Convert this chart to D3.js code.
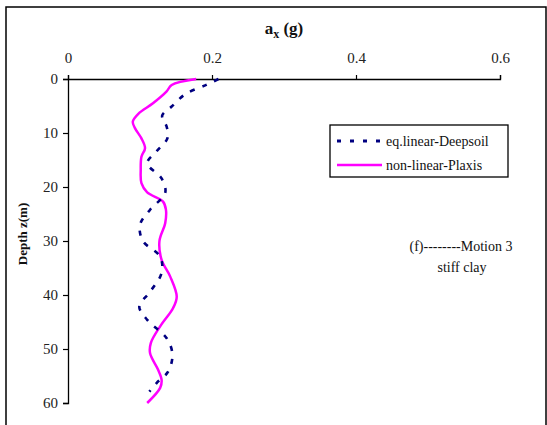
<!DOCTYPE html>
<html><head><meta charset="utf-8">
<script src="https://cdn.jsdelivr.net/npm/d3@7"></script>
<style>
html,body{margin:0;padding:0;background:#fff;}
svg{display:block;font-family:"Liberation Serif","Times New Roman",serif;}
</style></head>
<body>
<svg id="chart" width="547" height="425"></svg>
<script>
// Data
const xTicks = [0, 0.2, 0.4, 0.6];
const yTicks = [0, 10, 20, 30, 40, 50, 60];
const deepsoilDepth = [0, 1.1, 2.8, 5.1, 6.7, 7.6, 8.8, 11, 13.4, 15.6, 18.4, 21.1, 24.2, 27, 30, 32.9, 35.9, 39.4, 42.1, 44.6, 48, 51, 54.2, 56.3, 57.9];
const deepsoilAcc   = [0.209, 0.192, 0.163, 0.144, 0.131, 0.132, 0.137, 0.138, 0.123, 0.110, 0.130, 0.135, 0.114, 0.100, 0.104, 0.128, 0.130, 0.114, 0.099, 0.110, 0.137, 0.145, 0.139, 0.123, 0.113];
const plaxisDepth = [0, 1.1, 2.3, 4.5, 6.4, 7.9, 9.1, 11, 12.8, 14.4, 16.8, 19.3, 21, 22.7, 24.2, 26.7, 30, 33.5, 36.6, 40.3, 42.4, 45.8, 48.9, 50.8, 53.8, 55.7, 57.2, 60];
const plaxisAcc   = [0.178, 0.144, 0.137, 0.118, 0.098, 0.090, 0.093, 0.102, 0.107, 0.102, 0.101, 0.102, 0.110, 0.132, 0.136, 0.135, 0.127, 0.130, 0.142, 0.151, 0.146, 0.128, 0.115, 0.114, 0.125, 0.130, 0.128, 0.110];
const seriesNames = ["eq.linear-Deepsoil", "non-linear-Plaxis"];

const svg = d3.select("#chart");
// outer frame
svg.append("rect").attr("x",6).attr("y",7).attr("width",540).attr("height",430)
  .attr("fill","none").attr("stroke","#000").attr("stroke-width",1.5);

const x = d3.scaleLinear().domain([0,0.6]).range([68,500]);
const y = d3.scaleLinear().domain([0,60]).range([79,403]);

const xAxis = svg.append("g").attr("transform","translate(0,79)")
  .call(d3.axisTop(x).tickValues(xTicks).tickFormat(d3.format("")).tickSize(4).tickPadding(12));
const yAxis = svg.append("g").attr("transform","translate(68,0)")
  .call(d3.axisLeft(y).tickValues(yTicks).tickSize(5).tickPadding(5));
[xAxis,yAxis].forEach(a=>{
  a.select(".domain").attr("stroke","#000").attr("stroke-width",1.3);
  a.selectAll(".tick line").attr("stroke","#000").attr("stroke-width",1.2);
  a.selectAll(".tick text").attr("font-family","Liberation Serif").attr("font-size",15).attr("fill","#222");
});

// Title
const t = svg.append("text").attr("x",284).attr("y",34).attr("text-anchor","middle")
  .attr("font-size",17).attr("font-weight","bold").attr("fill","#111");
t.append("tspan").text("a");
t.append("tspan").attr("font-size",12).attr("dy",4).text("x");
t.append("tspan").attr("dy",-4).text(" (g)");

svg.append("text").attr("transform","translate(27,234) rotate(-90)").attr("text-anchor","middle")
  .attr("font-size",13).attr("font-weight","bold").attr("fill","#111").text("Depth z(m)");

const line = d3.line().x(d=>x(d[1])).y(d=>y(d[0])).curve(d3.curveCatmullRom.alpha(0.5));
const ds = deepsoilDepth.map((d,i)=>[d,deepsoilAcc[i]]);
const px = plaxisDepth.map((d,i)=>[d,plaxisAcc[i]]);

svg.append("path").attr("d",line(px)).attr("fill","none").attr("stroke","#ff00ff").attr("stroke-width",2.5);
svg.append("path").attr("d",line(ds)).attr("fill","none").attr("stroke","#000080").attr("stroke-width",2.6)
  .attr("stroke-dasharray","5,8");

// Legend
const lg = svg.append("g");
lg.append("rect").attr("x",330).attr("y",125).attr("width",178).attr("height",52)
  .attr("fill","#fff").attr("stroke","#000").attr("stroke-width",1.3);
lg.append("line").attr("x1",337).attr("x2",383).attr("y1",141).attr("y2",141)
  .attr("stroke","#000080").attr("stroke-width",3).attr("stroke-dasharray","4,9");
lg.append("line").attr("x1",337).attr("x2",382).attr("y1",165).attr("y2",165)
  .attr("stroke","#ff00ff").attr("stroke-width",2.5);
lg.append("text").attr("x",386).attr("y",146).attr("font-size",14).attr("fill","#111").text(seriesNames[0]);
lg.append("text").attr("x",386).attr("y",170).attr("font-size",14).attr("fill","#111").text(seriesNames[1]);

svg.append("text").attr("x",461).attr("y",251).attr("text-anchor","middle").attr("font-size",14).attr("fill","#111").text("(f)--------Motion 3");
svg.append("text").attr("x",462).attr("y",272).attr("text-anchor","middle").attr("font-size",14).attr("fill","#111").text("stiff clay");
</script>
</body></html>
